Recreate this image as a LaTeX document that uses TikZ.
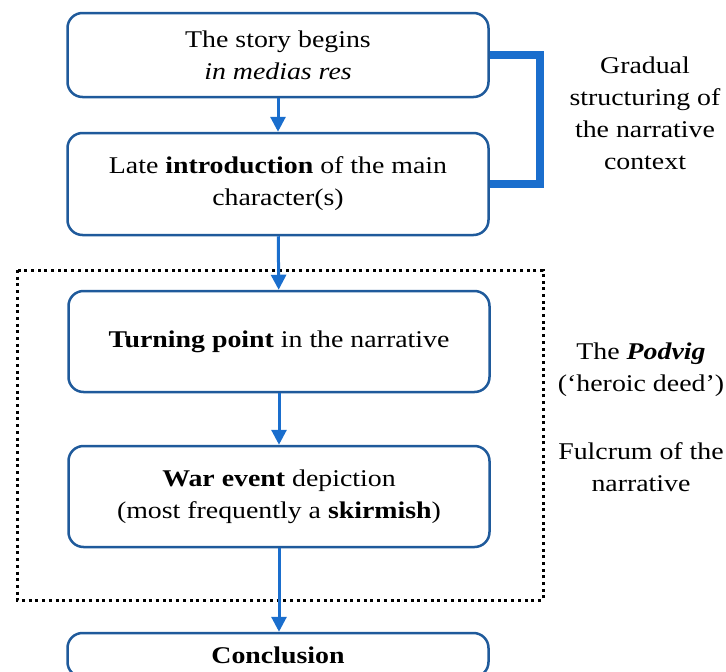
\documentclass[tikz,border=0pt]{standalone}
\usepackage{fontspec}
\setmainfont{Liberation Serif}[FakeStretch=1.16]
\usepackage{xcolor}
\usepackage{tikz}
\usetikzlibrary{arrows.meta}

\definecolor{boxblue}{RGB}{31,90,155}
\definecolor{arrowblue}{RGB}{26,110,205}

\begin{document}
\begin{tikzpicture}[x=1pt, y=-1pt,
stepbox/.style={draw=boxblue, line width=2.5pt, rounded corners=15pt, fill=white,
  minimum width=421pt, align=center, font=\fontsize{24}{32}\selectfont},
flow/.style={draw=arrowblue, line width=3pt, -{Triangle[width=15pt,length=15pt]}},
bracket/.style={draw=arrowblue, line width=8pt},
dotframe/.style={draw=black, line width=3pt, dash pattern=on 3pt off 3.7pt},
sidenote/.style={align=center, font=\fontsize{24}{32}\selectfont}]

\useasboundingbox (0,0) rectangle (726,672);

% Flow of the narrative
\node[stepbox, minimum height=84pt] (begin) at (278,55) {The story begins\\\textit{in medias res}};
\node[stepbox, minimum height=102pt] (intro) at (278,184) {Late \textbf{introduction} of the main\\character(s)};
\node[stepbox, minimum height=101pt] (turn) at (279,341.5) {\textbf{Turning point} in the narrative};
\node[stepbox, minimum height=101pt] (war) at (279,496.5) {\textbf{War event} depiction\\(most frequently a \textbf{skirmish})};
\node[stepbox, minimum height=44pt] (concl) at (278,655) {\textbf{Conclusion}};

% Dotted frame round the central part
\draw[dotframe] (17,270) rectangle (543,600);

% Connectors
\draw[flow] (begin) -- (intro);
\draw[flow] (intro) -- (turn);
\draw[flow] (turn) -- (war);
\draw[flow] (war) -- (concl.north -| war.south);

% Bracket joining the first two steps
\draw[bracket] (begin.east) -- ++(50,0) |- (intro.east);

% Side notes
\node[sidenote] (gradual) at (645,113) {Gradual\\structuring of\\the narrative\\context};
\node[sidenote] (podvig) at (641,370) {The \textbf{\textit{Podvig}}\\(`heroic deed')};
\node[sidenote] (fulcrum) at (641,467.5) {Fulcrum of the\\narrative};
\end{tikzpicture}
\end{document}
